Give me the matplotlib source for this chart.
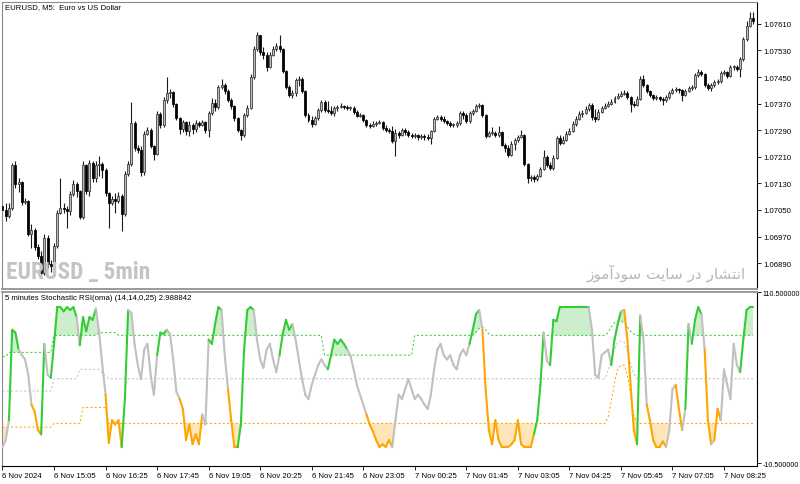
import numpy as np
import matplotlib
matplotlib.use("Agg")
import matplotlib.pyplot as plt
from matplotlib.collections import LineCollection
from matplotlib import font_manager

plt.rcParams['font.family'] = ['Liberation Sans', 'DejaVu Sans']

# ---------------- EURUSD M5 candles (6 Nov 2024 13:45 -> 7 Nov 09:10) ----------------
first_open = 1.07061
close = [
    1.07049, 1.07031, 1.07055, 1.07184, 1.07127, 1.07133, 1.07073, 1.07076, 1.06977, 1.06989,
    1.06938, 1.06911, 1.06860, 1.06965, 1.06887, 1.06881, 1.06941, 1.07040, 1.07055, 1.07052,
    1.07046, 1.07097, 1.07127, 1.07106, 1.07028, 1.07184, 1.07106, 1.07190, 1.07145, 1.07184,
    1.07187, 1.07169, 1.07100, 1.07070, 1.07082, 1.07076, 1.07091, 1.07037, 1.07157, 1.07187,
    1.07313, 1.07235, 1.07229, 1.07163, 1.07280, 1.07292, 1.07241, 1.07217, 1.07340, 1.07307,
    1.07382, 1.07403, 1.07406, 1.07370, 1.07328, 1.07295, 1.07316, 1.07289, 1.07307, 1.07295,
    1.07313, 1.07307, 1.07316, 1.07292, 1.07343, 1.07373, 1.07361, 1.07421, 1.07427, 1.07409,
    1.07382, 1.07364, 1.07328, 1.07292, 1.07277, 1.07337, 1.07358, 1.07451, 1.07535, 1.07577,
    1.07526, 1.07517, 1.07481, 1.07517, 1.07535, 1.07544, 1.07535, 1.07469, 1.07421, 1.07397,
    1.07403, 1.07442, 1.07445, 1.07409, 1.07337, 1.07322, 1.07310, 1.07328, 1.07352, 1.07376,
    1.07352, 1.07349, 1.07343, 1.07358, 1.07361, 1.07364, 1.07361, 1.07358, 1.07358, 1.07346,
    1.07334, 1.07337, 1.07322, 1.07307, 1.07304, 1.07310, 1.07313, 1.07316, 1.07298, 1.07292,
    1.07289, 1.07259, 1.07283, 1.07277, 1.07292, 1.07286, 1.07277, 1.07274, 1.07277, 1.07271,
    1.07274, 1.07271, 1.07268, 1.07289, 1.07325, 1.07331, 1.07325, 1.07319, 1.07313, 1.07307,
    1.07307, 1.07313, 1.07343, 1.07337, 1.07319, 1.07343, 1.07349, 1.07364, 1.07367, 1.07337,
    1.07274, 1.07283, 1.07283, 1.07277, 1.07286, 1.07247, 1.07235, 1.07214, 1.07250, 1.07262,
    1.07271, 1.07277, 1.07187, 1.07145, 1.07148, 1.07142, 1.07151, 1.07172, 1.07208, 1.07184,
    1.07175, 1.07205, 1.07268, 1.07253, 1.07262, 1.07280, 1.07289, 1.07310, 1.07325, 1.07340,
    1.07343, 1.07355, 1.07367, 1.07331, 1.07325, 1.07346, 1.07358, 1.07364, 1.07370, 1.07376,
    1.07388, 1.07394, 1.07400, 1.07403, 1.07391, 1.07370, 1.07367, 1.07385, 1.07445, 1.07427,
    1.07409, 1.07397, 1.07388, 1.07391, 1.07385, 1.07382, 1.07391, 1.07403, 1.07412, 1.07415,
    1.07412, 1.07397, 1.07409, 1.07418, 1.07421, 1.07457, 1.07466, 1.07460, 1.07427, 1.07418,
    1.07427, 1.07436, 1.07439, 1.07463, 1.07466, 1.07454, 1.07481, 1.07481, 1.07475, 1.07505,
    1.07565, 1.07604, 1.07628, 1.07619]
high = [
    1.07085, 1.07070, 1.07070, 1.07190, 1.07196, 1.07145, 1.07136, 1.07085, 1.07079, 1.07007,
    1.06995, 1.06947, 1.06926, 1.06977, 1.06974, 1.06899, 1.06950, 1.07049, 1.07145, 1.07070,
    1.07061, 1.07106, 1.07139, 1.07133, 1.07109, 1.07196, 1.07187, 1.07199, 1.07196, 1.07196,
    1.07211, 1.07193, 1.07175, 1.07103, 1.07091, 1.07100, 1.07103, 1.07097, 1.07166, 1.07196,
    1.07376, 1.07319, 1.07244, 1.07241, 1.07289, 1.07301, 1.07298, 1.07247, 1.07349, 1.07346,
    1.07391, 1.07451, 1.07415, 1.07409, 1.07373, 1.07331, 1.07322, 1.07319, 1.07319, 1.07313,
    1.07322, 1.07319, 1.07322, 1.07319, 1.07349, 1.07388, 1.07385, 1.07427, 1.07445, 1.07433,
    1.07415, 1.07388, 1.07367, 1.07331, 1.07295, 1.07343, 1.07367, 1.07460, 1.07544, 1.07586,
    1.07574, 1.07541, 1.07526, 1.07526, 1.07544, 1.07553, 1.07577, 1.07538, 1.07472, 1.07427,
    1.07412, 1.07448, 1.07454, 1.07451, 1.07412, 1.07343, 1.07334, 1.07334, 1.07358, 1.07382,
    1.07382, 1.07379, 1.07364, 1.07364, 1.07367, 1.07373, 1.07367, 1.07367, 1.07364, 1.07364,
    1.07352, 1.07343, 1.07340, 1.07325, 1.07313, 1.07319, 1.07319, 1.07322, 1.07319, 1.07307,
    1.07298, 1.07304, 1.07295, 1.07289, 1.07298, 1.07298, 1.07292, 1.07283, 1.07283, 1.07280,
    1.07280, 1.07280, 1.07280, 1.07292, 1.07331, 1.07337, 1.07337, 1.07334, 1.07322, 1.07319,
    1.07313, 1.07319, 1.07349, 1.07349, 1.07343, 1.07349, 1.07355, 1.07370, 1.07373, 1.07370,
    1.07340, 1.07289, 1.07301, 1.07289, 1.07304, 1.07289, 1.07253, 1.07244, 1.07259, 1.07268,
    1.07277, 1.07292, 1.07280, 1.07190, 1.07154, 1.07154, 1.07157, 1.07178, 1.07229, 1.07214,
    1.07193, 1.07214, 1.07274, 1.07277, 1.07274, 1.07289, 1.07298, 1.07319, 1.07334, 1.07349,
    1.07352, 1.07364, 1.07373, 1.07373, 1.07355, 1.07355, 1.07364, 1.07373, 1.07379, 1.07385,
    1.07394, 1.07403, 1.07409, 1.07412, 1.07409, 1.07394, 1.07379, 1.07394, 1.07454, 1.07457,
    1.07430, 1.07412, 1.07400, 1.07397, 1.07394, 1.07391, 1.07397, 1.07409, 1.07418, 1.07421,
    1.07418, 1.07415, 1.07415, 1.07424, 1.07427, 1.07463, 1.07475, 1.07472, 1.07463, 1.07433,
    1.07433, 1.07442, 1.07445, 1.07469, 1.07472, 1.07469, 1.07487, 1.07487, 1.07487, 1.07511,
    1.07571, 1.07619, 1.07646, 1.07646]
low = [
    1.07040, 1.07016, 1.07025, 1.07049, 1.07115, 1.07103, 1.07064, 1.07067, 1.06971, 1.06935,
    1.06929, 1.06902, 1.06851, 1.06854, 1.06875, 1.06863, 1.06875, 1.06935, 1.07037, 1.07040,
    1.06995, 1.07034, 1.07091, 1.07088, 1.07022, 1.07022, 1.07097, 1.07091, 1.07133, 1.07133,
    1.07151, 1.07145, 1.07091, 1.06995, 1.07064, 1.07040, 1.07070, 1.06986, 1.07031, 1.07151,
    1.07181, 1.07226, 1.07220, 1.07151, 1.07154, 1.07277, 1.07235, 1.07199, 1.07214, 1.07298,
    1.07301, 1.07373, 1.07388, 1.07361, 1.07322, 1.07280, 1.07286, 1.07277, 1.07274, 1.07280,
    1.07286, 1.07301, 1.07304, 1.07283, 1.07271, 1.07337, 1.07349, 1.07355, 1.07415, 1.07400,
    1.07376, 1.07355, 1.07319, 1.07286, 1.07262, 1.07271, 1.07331, 1.07355, 1.07445, 1.07529,
    1.07517, 1.07505, 1.07469, 1.07478, 1.07514, 1.07529, 1.07526, 1.07463, 1.07415, 1.07391,
    1.07388, 1.07394, 1.07424, 1.07403, 1.07331, 1.07316, 1.07301, 1.07307, 1.07322, 1.07346,
    1.07346, 1.07343, 1.07337, 1.07334, 1.07349, 1.07358, 1.07355, 1.07352, 1.07352, 1.07340,
    1.07331, 1.07331, 1.07316, 1.07301, 1.07298, 1.07301, 1.07304, 1.07310, 1.07292, 1.07286,
    1.07283, 1.07253, 1.07211, 1.07268, 1.07274, 1.07277, 1.07271, 1.07268, 1.07268, 1.07262,
    1.07265, 1.07262, 1.07262, 1.07250, 1.07286, 1.07322, 1.07319, 1.07313, 1.07307, 1.07301,
    1.07301, 1.07301, 1.07307, 1.07325, 1.07313, 1.07313, 1.07337, 1.07346, 1.07358, 1.07331,
    1.07268, 1.07271, 1.07277, 1.07271, 1.07271, 1.07241, 1.07223, 1.07208, 1.07211, 1.07229,
    1.07256, 1.07268, 1.07181, 1.07130, 1.07136, 1.07133, 1.07136, 1.07148, 1.07169, 1.07178,
    1.07169, 1.07169, 1.07202, 1.07247, 1.07250, 1.07259, 1.07277, 1.07286, 1.07304, 1.07322,
    1.07331, 1.07340, 1.07349, 1.07322, 1.07316, 1.07322, 1.07343, 1.07355, 1.07361, 1.07367,
    1.07373, 1.07385, 1.07391, 1.07397, 1.07385, 1.07346, 1.07361, 1.07364, 1.07382, 1.07421,
    1.07403, 1.07391, 1.07382, 1.07382, 1.07379, 1.07367, 1.07376, 1.07385, 1.07400, 1.07406,
    1.07403, 1.07379, 1.07394, 1.07406, 1.07412, 1.07415, 1.07451, 1.07454, 1.07421, 1.07412,
    1.07409, 1.07421, 1.07430, 1.07433, 1.07457, 1.07448, 1.07451, 1.07472, 1.07469, 1.07451,
    1.07499, 1.07559, 1.07601, 1.07610]

# ---------------- Stochastic RSI (oma) ----------------
stoch = [
    1, 6, 20, 84, 82, 70, 66, 63, 52, 31,
    26, 13, 10, 74, 52, 50, 74, 100, 100, 97,
    100, 98, 100, 93, 73, 93, 83, 93, 91, 99,
    82, 59, 38, 4, 20, 17, 20, 1, 35, 98,
    96, 74, 59, 49, 70, 74, 52, 38, 66, 82,
    81, 84, 81, 63, 40, 35, 28, 6, 17, 3,
    10, 3, 24, 17, 77, 74, 88, 100, 98, 66,
    42, 20, 1, 1, 17, 70, 98, 100, 98, 77,
    63, 57, 70, 74, 63, 54, 66, 81, 91, 84,
    88, 77, 63, 49, 38, 35, 45, 52, 59, 63,
    59, 56, 66, 77, 74, 77, 74, 70, 66, 56,
    45, 38, 31, 24, 17, 12, 6, 1, 3, 1,
    6, 1, 20, 38, 35, 42, 49, 42, 35, 38,
    35, 31, 28, 38, 56, 70, 74, 66, 63, 66,
    59, 56, 66, 70, 66, 74, 84, 95, 98, 84,
    42, 13, 3, 20, 6, 1, 1, 1, 3, 6,
    20, 3, 1, 1, 1, 10, 20, 45, 82, 62,
    59, 91, 90, 100, 100, 100, 100, 100, 100, 100,
    100, 100, 100, 84, 52, 50, 66, 68, 70, 59,
    77, 88, 97, 98, 77, 45, 13, 3, 94, 77,
    31, 20, 6, 1, 1, 5, 1, 13, 42, 45,
    28, 13, 28, 88, 74, 91, 100, 95, 70, 20,
    3, 6, 28, 20, 56, 45, 35, 74, 59, 54,
    77, 98, 100, 100]
# colour state of the line per bar: g = up (green), s = neutral (silver), o = down (orange)
state = ("ossgggssss" "ooogssgggg" "ggggsggggg" "sssooooogg" "sssssssssg"
         "ggssssoooo" "ooossggggs" "sooogggggs" "sssssssggg" "gsssssssss"
         "ssggggggss" "ssssoooooo" "oossssssss" "ssssssssss" "ssssssgggs"
         "oooooooooo" "oooooogggs" "sggggggggg" "gggsssssss" "gggsoooogs"
         "soooooosss" "oosgsgggso" "osoossssss" "gggg")
level_up = ([65] * 2 + [68] * 14 + [80] * 14 + [82] * 6 + [80] * 64 + [66] * 28 + [80] * 19
            + [82, 85, 86, 84, 81] + [80] * 36
            + [82, 86, 89, 90, 90, 89, 86, 83, 81] + [80] * 37)
level_mid = ([40.6] * 16 + [49.3] * 8 + [56] * 7 + [53, 51] + [49.3] * 155
             + [55, 63, 70, 75, 76, 75, 69, 60, 53] + [49.3] * 37)
level_dn = ([15.1] * 16 + [17.7] * 9 + [29] * 8 + [17.7] * 155
            + [22, 33, 47, 56, 59, 59, 52, 38, 24] + [17.7] * 37)

price_ticks = [1.06890, 1.06970, 1.07050, 1.07130, 1.07210, 1.07290, 1.07370, 1.07450, 1.07530, 1.07610]
osc_ticks = [110.5, -10.5]
osc_tick_labels = ["110.500000", "-10.500000"]
time_bars = [0, 16, 32, 48, 64, 80, 96, 112, 128, 144, 160, 176, 192, 208, 224]
time_labels = ["6 Nov 2024", "6 Nov 15:05", "6 Nov 16:25", "6 Nov 17:45", "6 Nov 19:05",
               "6 Nov 20:25", "6 Nov 21:45", "6 Nov 23:05", "7 Nov 00:25", "7 Nov 01:45",
               "7 Nov 03:05", "7 Nov 04:25", "7 Nov 05:45", "7 Nov 07:05", "7 Nov 08:25"]

n = len(close)
assert len(high) == n and len(low) == n and len(stoch) == n and len(state) == n
assert len(level_up) == n and len(level_mid) == n and len(level_dn) == n

W, H = 800, 485
fig = plt.figure(figsize=(W / 100, H / 100), dpi=100, facecolor='white')


def rect(l, t, r, b):
    return [l / W, 1 - b / H, (r - l) / W, (b - t) / H]


ax1 = fig.add_axes(rect(2, 3, 757, 290))
ax2 = fig.add_axes(rect(2, 293, 757, 467))

x = np.arange(n)
c = np.array(close)
o = np.array([first_open] + close[:-1])   # each bar opens at the previous close
h = np.maximum(np.array(high), np.maximum(o, c))
l = np.minimum(np.array(low), np.minimum(o, c))
up = c >= o
bot = np.minimum(o, c)
hgt = np.maximum(np.abs(c - o), 0.000012)

ax1.vlines(x, l, h, color='#1a1a1a', lw=0.8, zorder=2)
ax1.bar(x[up], hgt[up], bottom=bot[up], width=0.62, color='#bdbdbd', edgecolor='#333333', linewidth=0.55, zorder=3)
ax1.bar(x[~up], hgt[~up], bottom=bot[~up], width=0.62, color='black', edgecolor='black', linewidth=0.55, zorder=3)

xlim = (-0.155, 234.24)
ax1.set_xlim(*xlim)
ax1.set_ylim(1.06812, 1.07676)
ax1.set_xticks([])
ax1.yaxis.tick_right()
ax1.set_yticks(price_ticks)
ax1.set_yticklabels([f"{v:.5f}" for v in price_ticks])

# ---------------- oscillator ----------------
GREEN, SILVER, ORANGE = '#32CD32', '#C0C0C0', '#FFA500'
s = np.array(stoch, dtype=float)
lu, lm, ld = np.array(level_up), np.array(level_mid), np.array(level_dn)
ax2.fill_between(x, s, lu, where=s > lu, interpolate=True, color='#cdeecd', lw=0, zorder=1)
ax2.fill_between(x, s, ld, where=s < ld, interpolate=True, color='#ffe5b8', lw=0, zorder=1)
dash = (0, (2.2, 2.2))
ax2.plot(x, lu, color=GREEN, lw=0.7, ls=dash, zorder=2)
ax2.plot(x, lm, color=SILVER, lw=0.7, ls=dash, zorder=2)
ax2.plot(x, ld, color=ORANGE, lw=0.7, ls=dash, zorder=2)

cmap = {'g': GREEN, 's': SILVER, 'o': ORANGE}
pts = np.column_stack([x, s])
segs = np.stack([pts[:-1], pts[1:]], axis=1)
lc = LineCollection(segs, colors=[cmap[k] for k in state[1:]], linewidths=1.5,
                    capstyle='round', joinstyle='round', zorder=3)
ax2.add_collection(lc)

ax2.set_xlim(*xlim)
ax2.set_ylim(-12.4, 110.7)
ax2.yaxis.tick_right()
ax2.set_yticks(osc_ticks)
ax2.set_yticklabels(osc_tick_labels)
ax2.set_xticks(time_bars)
ax2.set_xticklabels(time_labels, ha='left')

for ax in (ax1, ax2):
    ax.set_facecolor('white')
    ax.tick_params(axis='both', direction='out', length=3, width=0.6, colors='black',
                   labelsize=5.6, pad=1.5)
    ax.spines['left'].set_color('#8a8a8a')
    ax.spines['right'].set_color('black')
    for sp in ax.spines.values():
        sp.set_linewidth(0.8)
ax2.tick_params(axis='y', labelsize=5.1, pad=1.2)
ax1.spines['top'].set_color('#8a8a8a')
ax1.spines['bottom'].set_color('#9a9a9a')
ax1.spines['bottom'].set_linewidth(1.4)
ax2.spines['top'].set_color('#9a9a9a')
ax2.spines['top'].set_linewidth(1.4)
ax2.spines['bottom'].set_color('black')

# ---------------- texts ----------------
def ftext(px, py, txt, **kw):
    return fig.text(px / W, 1 - py / H, txt, **kw)


ftext(5, 8, "EURUSD, M5:  Euro vs US Dollar", fontsize=5.6, va='center', ha='left', color='black')
ftext(5, 299, "5 minutes Stochastic RSI(oma) (14,14,0,25) 2.988842", fontsize=5.6,
      va='center', ha='left', color='black')

# condensed bold watermark: pick a condensed face if one is installed
avail = {f.name for f in font_manager.fontManager.ttflist}
wm_fams = [f for f in ['Roboto Condensed', 'DejaVu Sans Condensed', 'Liberation Sans Narrow',
                       'Open Sans Condensed', 'Noto Sans Display'] if f in avail]
if wm_fams:
    wm_family = [wm_fams[0]]
    wm_size = 17.5
else:
    wm_family = ['DejaVu Sans']
    wm_size = 15
wm = ftext(6, 272, "EURUSD _ 5min", fontsize=wm_size, fontweight='bold', va='center', ha='left',
           color='#c4c4c4', family=wm_family, fontstretch='condensed')
# fit the watermark width to the reference (about 143 px)
fig.canvas.draw()
bb = wm.get_window_extent()
if bb.width > 0:
    wm.set_fontsize(wm_size * min(1.25, 143.0 / bb.width))

persian = "\uFEAF\uFEEE\uFEE3\uFE81\uFEA9\uFEEE\uFEB3 \uFE96\uFBFE\uFE8E\uFEB3 \uFEAD\uFEA9 \uFEAD\uFE8E\uFEB8\uFE98\uFEE7\uFE8D"
ftext(746, 273, persian, fontsize=11, va='center', ha='right', color='#b8b8b8', family=['DejaVu Sans'])

fig.savefig('out.png', dpi=100, facecolor='white')
